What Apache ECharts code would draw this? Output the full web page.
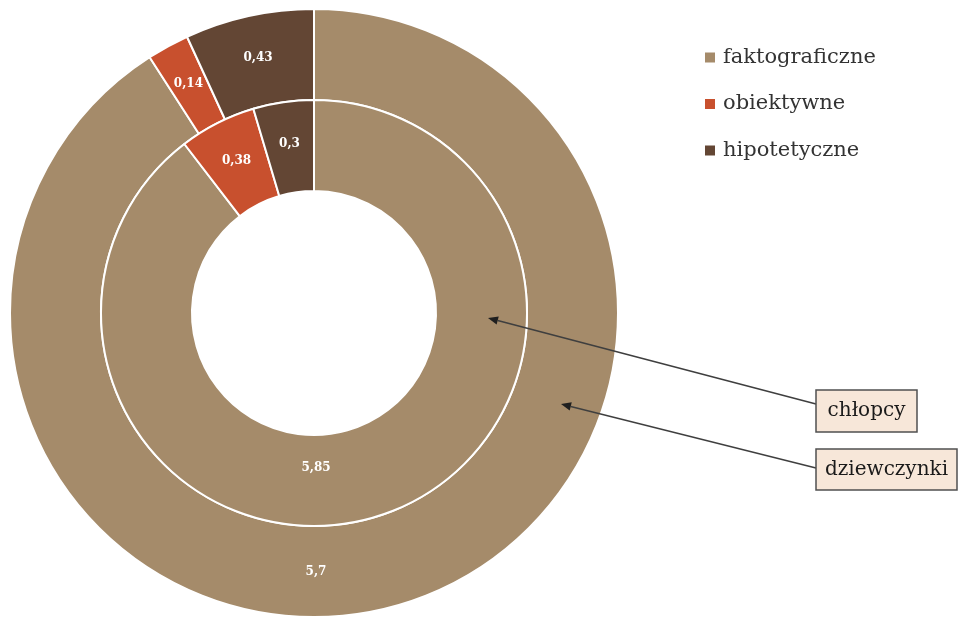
<!DOCTYPE html>
<html>
<head>
<meta charset="utf-8">
<script src="https://cdn.jsdelivr.net/npm/echarts@6/dist/echarts.min.js"></script>
<style>
  html, body { margin: 0; padding: 0; background: #fff; }
  #chart { width: 960px; height: 618px; }
</style>
</head>
<body>
<div id="chart"></div>
<script>
// Categories of answers and the two groups compared
const categories = ['faktograficzne', 'obiektywne', 'hipotetyczne'];
const chlopcy = [5.85, 0.38, 0.3];
const dziewczynki = [5.7, 0.14, 0.43];
const colors = ['#A58B6A', '#C8502E', '#634634'];

// Ring geometry
const CX = 314, CY = 313;
const R_HOLE = 122, R_MID = 213, R_OUT = 304;
const SERIF = '"DejaVu Serif", "Liberation Serif", serif';

const fmt = v => String(v).replace('.', ',');

function ringSeries(name, values, r0, r1, bigLabelDist) {
  return {
    name: name,
    type: 'pie',
    center: [CX, CY],
    radius: [r0, r1],
    startAngle: 90,
    clockwise: true,
    avoidLabelOverlap: false,
    silent: true,
    itemStyle: { borderColor: '#ffffff', borderWidth: 2 },
    label: {
      show: true,
      position: 'inside',
      formatter: p => fmt(p.value),
      color: '#ffffff',
      fontFamily: SERIF,
      fontWeight: 'bold',
      fontSize: 12
    },
    labelLine: { show: false },
    // the largest slice carries its label at the bottom of the ring
    labelLayout: function (p) {
      if (p.dataIndex === 0) {
        return { x: CX + 2, y: CY + bigLabelDist };
      }
    },
    emphasis: { disabled: true },
    data: categories.map((c, i) => ({
      name: c,
      value: values[i],
      itemStyle: { color: colors[i] }
    }))
  };
}

function arrow(x1, y1, x2, y2) {
  const ang = Math.atan2(y2 - y1, x2 - x1);
  const len = 10, half = 4.2;
  const bx = x2 - len * Math.cos(ang), by = y2 - len * Math.sin(ang);
  const px = -Math.sin(ang) * half, py = Math.cos(ang) * half;
  return [
    {
      type: 'line',
      shape: { x1: x1, y1: y1, x2: bx, y2: by },
      style: { stroke: '#3f3f3f', lineWidth: 1.5 },
      z: 10
    },
    {
      type: 'polygon',
      shape: { points: [[x2, y2], [bx + px, by + py], [bx - px, by - py]] },
      style: { fill: '#1f1f1f' },
      z: 10
    }
  ];
}

function box(x, y, w, h, text) {
  return [
    {
      type: 'rect',
      shape: { x: x, y: y, width: w, height: h },
      style: { fill: '#F7E7D9', stroke: '#505050', lineWidth: 1.5 },
      z: 10
    },
    {
      type: 'text',
      x: x + w / 2,
      y: y + h / 2,
      style: {
        text: text,
        fill: '#1a1a1a',
        font: '20px ' + SERIF,
        align: 'center',
        verticalAlign: 'middle'
      },
      z: 11
    }
  ];
}

const chart = echarts.init(document.getElementById('chart'));
chart.setOption({
  animation: false,
  backgroundColor: '#ffffff',
  legend: {
    orient: 'vertical',
    left: 703,
    top: 47,
    padding: 0,
    icon: 'rect',
    itemWidth: 12,
    itemHeight: 12,
    itemGap: 25.5,
    selectedMode: false,
    data: categories,
    textStyle: {
      fontFamily: SERIF,
      fontSize: 21,
      lineHeight: 21,
      color: '#333333',
      padding: [0, 0, 0, 2]
    }
  },
  series: [
    ringSeries('dziewczynki', dziewczynki, R_MID, R_OUT, 259),
    ringSeries('chłopcy', chlopcy, R_HOLE, R_MID, 155)
  ],
  graphic: [].concat(
    arrow(816, 404, 488, 318),
    arrow(816, 468, 561, 404),
    box(816, 390, 101, 42, 'chłopcy'),
    box(816, 449, 141, 41, 'dziewczynki')
  )
});
</script>
</body>
</html>
